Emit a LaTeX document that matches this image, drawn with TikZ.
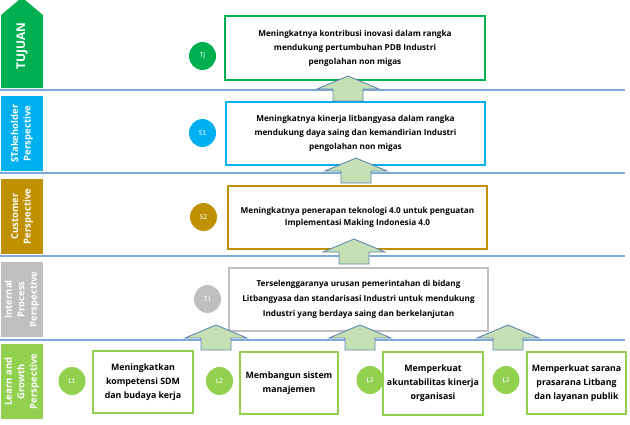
\documentclass[tikz,border=0pt]{standalone}
\usepackage{fontspec}
\setmainfont{Carlito}
\newfontfamily\boxfont{Open Sans}[UprightFont={Open Sans Bold}]
\newfontfamily\labfont{Open Sans}[BoldFont={Open Sans Bold}]
\usetikzlibrary{shapes.geometric}
\definecolor{cTj}{RGB}{0,176,80}
\definecolor{cS}{RGB}{0,176,240}
\definecolor{cGold}{RGB}{191,144,0}
\definecolor{cGray}{RGB}{191,191,191}
\definecolor{cLG}{RGB}{146,208,80}
\definecolor{cLine}{RGB}{125,170,218}
\definecolor{cArrFill}{RGB}{197,224,180}
\definecolor{cArrDraw}{RGB}{95,135,178}
\begin{document}
\begin{tikzpicture}[x=1pt,y=-1pt,
  sidelab/.style={rotate=90,text=white,font=\labfont\bfseries\fontsize{9.5}{12.5}\selectfont,align=center,inner sep=0pt},
  sidebox/.style={draw=none,minimum width=42,minimum height=75,inner sep=0pt},
  goalbox/.style={draw,fill=white,line width=1.5pt,align=center,inner sep=2pt,font=\boxfont\fontsize{8.2}{14}\selectfont},
  lbox/.style={goalbox,draw=cLG,font=\boxfont\fontsize{8.8}{14}\selectfont},
  tag/.style={ellipse,minimum width=27,minimum height=28,inner sep=0pt,text=white,font=\fontsize{7.5}{8}\selectfont},
  sep/.style={draw=cLine,line width=1.3pt},
  arrowshape/.style={fill=cArrFill,draw=cArrDraw,line width=0.9pt,line join=miter},
  uparr/.pic={\path[arrowshape] (0,0) -- (31,13) -- (15,13) -- (15,25) -- (-15,25) -- (-15,13) -- (-31,13) -- cycle;}
]
\useasboundingbox (0,0) rectangle (630,424);

% separator lines
\draw[sep] (0,90) -- (625,90);
\draw[sep] (0,173) -- (625,173);
\draw[sep] (0,256) -- (625,256);
\draw[sep] (0,340) -- (625,340);

% side labels
\fill[cTj] (1,88) -- (1,15) -- (19,0) -- (25,0) -- (43,15) -- (43,88) -- cycle;
\node[sidelab,font=\labfont\bfseries\fontsize{12}{14}\selectfont] (ltuj) at (22,46) {TUJUAN};
\node[sidebox,fill=cS] (lstk) at (22,133.5) {};
\node[sidelab] (lstkt) at (lstk) {STakeholder\\Perspective};
\node[sidebox,fill=cGold] (lcus) at (22,216.5) {};
\node[sidelab] (lcust) at (lcus) {Customer\\Perspective};
\node[sidebox,fill=cGray] (lint) at (22,299.5) {};
\node[sidelab] (lintt) at (lint) {Internal\\Process\\Perspective};
\node[sidebox,fill=cLG] (llrn) at (22,381.5) {};
\node[sidelab] (llrnt) at (llrn) {Learn and\\Growth\\Perspective};

% goal boxes
\node[goalbox,draw=cTj,minimum width=260,minimum height=64] (tj) at (355,48)
  {Meningkatnya kontribusi inovasi dalam rangka\\mendukung pertumbuhan PDB Industri\\pengolahan non migas};
\node[tag,fill=cTj] (ctj) at (202.5,56) {Tj};

\node[goalbox,draw=cS,minimum width=259,minimum height=63] (s1) at (355.5,133.5)
  {Meningkatnya kinerja litbangyasa dalam rangka\\mendukung daya saing dan kemandirian Industri\\pengolahan non migas};
\node[tag,fill=cS] (cs1) at (202.5,133) {S1};

\node[goalbox,draw=cGold,minimum width=259,minimum height=63,font=\boxfont\fontsize{8.2}{12}\selectfont] (s2) at (357.5,217.5)
  {Meningkatnya penerapan teknologi 4.0 untuk penguatan\\Implementasi Making Indonesia 4.0};
\node[tag,fill=cGold] (cs2) at (203.5,217) {S2};

\node[goalbox,draw=cGray,minimum width=259,minimum height=63,font=\boxfont\fontsize{8.2}{15}\selectfont] (t1) at (358.5,299.5)
  {Terselenggaranya urusan pemerintahan di bidang\\Litbangyasa dan standarisasi Industri untuk mendukung\\Industri yang berdaya saing dan berkelanjutan};
\node[tag,fill=cGray] (ct1) at (207.5,299) {T1};

% learn boxes
\node[lbox,minimum width=100,minimum height=62] (l1) at (143,382)
  {Meningkatkan\\kompetensi SDM\\dan budaya kerja};
\node[tag,fill=cLG] (cl1) at (72,381) {L1};
\node[lbox,minimum width=98,minimum height=62] (l2) at (289,383)
  {Membangun sistem\\manajemen};
\node[tag,fill=cLG] (cl2) at (219.5,381) {L2};
\node[lbox,minimum width=100,minimum height=63] (l3a) at (433,383.5)
  {Memperkuat\\akuntabilitas kinerja\\organisasi};
\node[tag,fill=cLG] (cl3a) at (370,380) {L3};
\node[lbox,minimum width=99,minimum height=62] (l3b) at (576.5,383)
  {Memperkuat sarana\\prasarana Litbang\\dan layanan publik};
\node[tag,fill=cLG] (cl3b) at (506,380) {L3};

% block arrows
\pic at (348,76) {uparr};
\pic at (356,158) {uparr};
\pic at (354,239) {uparr};
\pic at (216,325) {uparr};
\pic at (360,325) {uparr};
\pic at (508,325) {uparr};
\end{tikzpicture}
\end{document}
